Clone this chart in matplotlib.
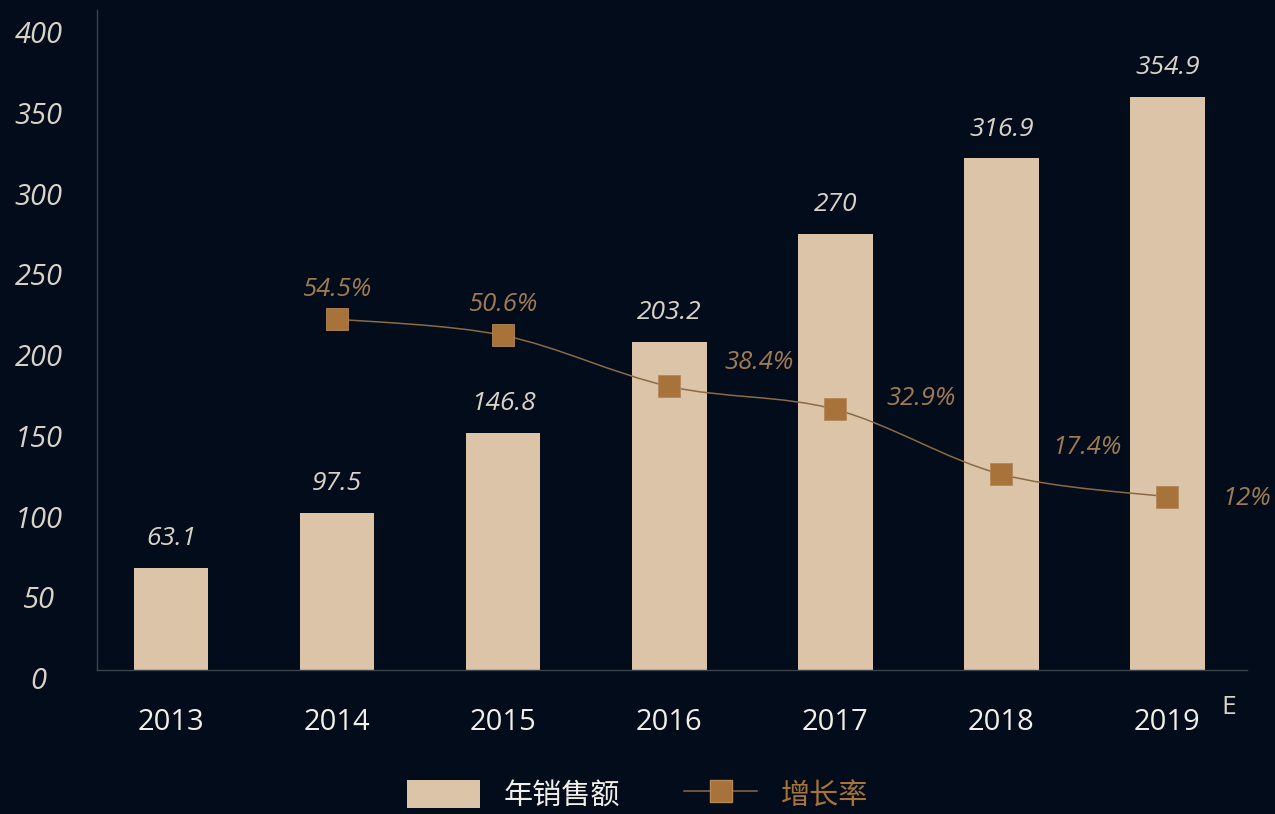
import numpy as np
import matplotlib.pyplot as plt
from matplotlib.path import Path
from matplotlib.patches import PathPatch, Patch
from matplotlib.lines import Line2D
from matplotlib.transforms import ScaledTranslation

plt.rcParams['font.family'] = ['Open Sans', 'Noto Sans CJK SC', 'DejaVu Sans']

# data
years = ['2013', '2014', '2015', '2016', '2017', '2018', '2019']
sales = [63.1, 97.5, 146.8, 203.2, 270, 316.9, 354.9]
growth_years = ['2014', '2015', '2016', '2017', '2018', '2019']
growth = [54.5, 50.6, 38.4, 32.9, 17.4, 12]

bg = '#020c1b'
bar_col = '#dbc4a8'
mark_col = '#a8733a'
line_col = '#8c6a44'
pct_col = '#a07a52'
txt_col = '#d9d2c8'

fig = plt.figure(figsize=(12.75, 8.14), dpi=100, facecolor=bg)
ax = fig.add_axes([97/1275, 1-670/814, 1150/1275, 660/814])
ax.set_facecolor(bg)

x = np.arange(len(years))
ax.bar(x, sales, width=0.45, color=bar_col, zorder=2)
ax.set_xlim(-0.446, 6.48)
ax.set_ylim(0, 408.7)
ax.set_yticks(range(0, 401, 50))
ax.set_xticks(x)
ax.set_xticklabels(years)

for s in ['top', 'right']:
    ax.spines[s].set_visible(False)
for s in ['left', 'bottom']:
    ax.spines[s].set_color('#3d434d')
    ax.spines[s].set_linewidth(1)

ax.tick_params(axis='both', length=0)
ax.tick_params(axis='x', pad=27, labelsize=21, labelcolor='#f2eee8')
ax.tick_params(axis='y', pad=42, labelsize=21, labelcolor=txt_col)
off = ScaledTranslation(0, -8/100, fig.dpi_scale_trans)
for lab in ax.get_yticklabels():
    lab.set_horizontalalignment('center')
    lab.set_style('italic')
    lab.set_transform(lab.get_transform() + off)

for xi, v in zip(x, sales):
    ax.annotate(f'{v:g}', (xi, v), xytext=(0, 21), textcoords='offset points',
                ha='center', va='center', fontsize=19, style='italic', color=txt_col)

ax.text(6.37, -23, 'E', fontsize=19, color=txt_col, ha='center', va='center')

# growth rate on twin axis
ax2 = ax.twinx()
ax2.set_ylim(-29.4, 128.4)
ax2.axis('off')
gx = np.array([years.index(y) for y in growth_years], dtype=float)
gy = np.array(growth, dtype=float)

# smooth curve through points (Catmull-Rom as cubic Bezier)
pts = np.column_stack([gx, gy])
verts = [tuple(pts[0])]
codes = [Path.MOVETO]
for i in range(len(pts) - 1):
    p0 = pts[i - 1] if i > 0 else pts[i]
    p1 = pts[i]
    p2 = pts[i + 1]
    p3 = pts[i + 2] if i + 2 < len(pts) else pts[i + 1]
    c1 = p1 + (p2 - p0) / 6
    c2 = p2 - (p3 - p1) / 6
    verts += [tuple(c1), tuple(c2), tuple(p2)]
    codes += [Path.CURVE4] * 3
ax2.add_patch(PathPatch(Path(verts, codes), facecolor='none', edgecolor=line_col, lw=1.1, zorder=3))
ax2.plot(gx, gy, ls='none', marker='s', ms=16.5, mfc=mark_col, mec='#b5875a', mew=0.6, zorder=4)

lab_off = [(0, 21), (0, 22), (65, 17), (62, 8), (62, 19), (57, -1)]
for xi, v, o in zip(gx, gy, lab_off):
    ax2.annotate(f'{v:g}%', (xi, v), xytext=o, textcoords='offset points',
                 ha='center', va='center', fontsize=18.5, style='italic', color=pct_col)

handles = [Patch(facecolor=bar_col, edgecolor='none'),
           Line2D([], [], color=line_col, lw=1.1, marker='s', ms=16.5, mfc=mark_col, mec='#b5875a')]
leg = fig.legend(handles, ['年销售额', '增长率'], loc='center', bbox_to_anchor=(0.5, 1-795/814),
                 ncol=2, frameon=False, handlelength=2.5, handleheight=1.1,
                 columnspacing=2.2, handletextpad=0.8,
                 prop={'family': ['Noto Sans CJK SC', 'DejaVu Sans'], 'size': 21})
leg.get_texts()[0].set_color('#f2eee8')
leg.get_texts()[1].set_color('#a8733a')

fig.savefig('out.png', dpi=100, facecolor=bg)
